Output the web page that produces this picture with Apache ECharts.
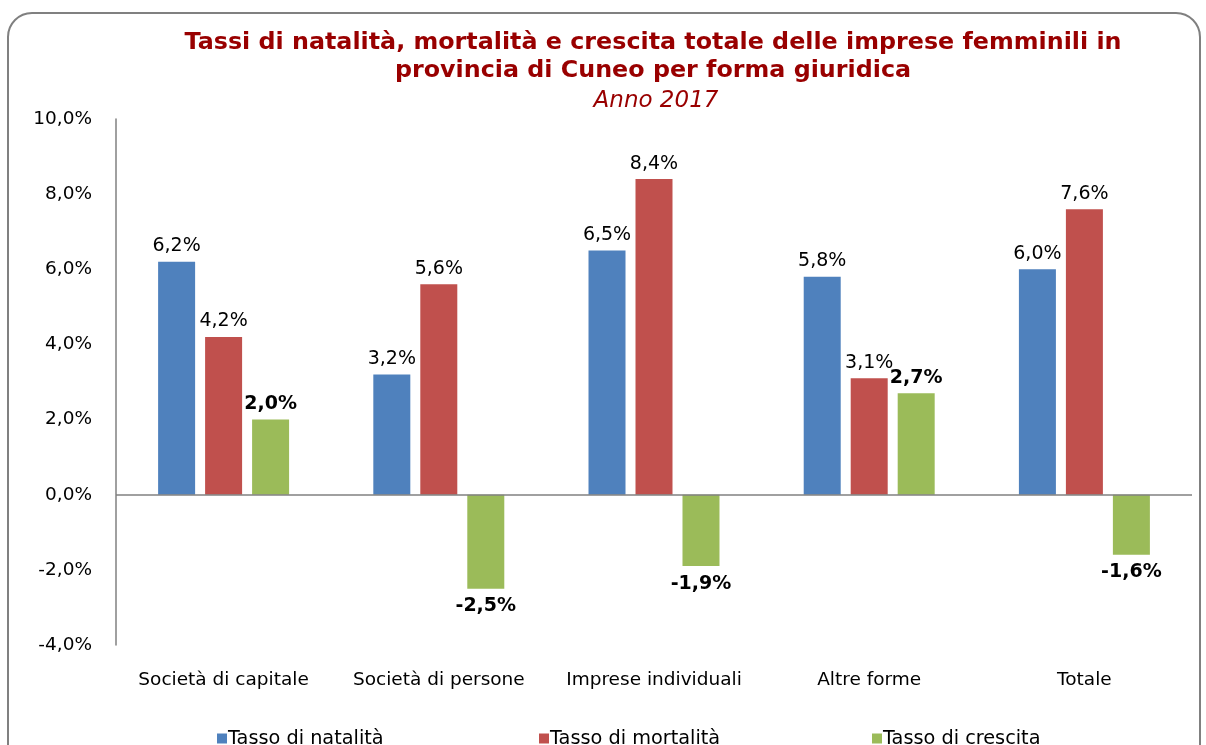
<!DOCTYPE html>
<html><head><meta charset="utf-8">
<script src="https://cdn.jsdelivr.net/npm/echarts@6/dist/echarts.min.js"></script>
<style>html,body{margin:0;padding:0;background:#fff}#c{width:1206px;height:745px}</style>
</head><body><div id="c"></div>
<script>
const categories = ['Società di capitale','Società di persone','Imprese individuali','Altre forme','Totale'];
const natalita = [6.2, 3.2, 6.5, 5.8, 6.0];
const mortalita = [4.2, 5.6, 8.4, 3.1, 7.6];
const crescita = [2.0, -2.5, -1.9, 2.7, -1.6];
const seriesNames = ['Tasso di natalità','Tasso di mortalità','Tasso di crescita'];
const colors = ['#4F81BD','#C0504D','#9BBB59'];
const yTicks = {min:-4, max:10, interval:2};

const fmt = v => v.toFixed(1).replace('.', ',') + '%';
const font = 'DejaVu Sans';

const chart = echarts.init(document.getElementById('c'));
function lbl(bold){
  return {
    show:true, color:'#000', fontFamily:font, fontSize:19, fontWeight: bold?'bold':'normal',
    formatter: p => fmt(p.value),
    position: 'top', distance:6
  };
}
function data(arr){
  return arr.map(v => v < 0 ? {value:v, label:{position:'bottom', distance:8}} : v);
}
const legendCommon = {
  top: 724, icon:'rect', itemWidth:10, itemHeight:10, itemGap:4,
  textStyle:{fontFamily:font, fontSize:19.3, color:'#000', padding:[0,0,0,-4]}
};
chart.setOption({
  animation:false,
  color: colors,
  graphic:[{type:'rect', shape:{x:8,y:13,width:1192,height:780,r:24}, style:{fill:'none', stroke:'#808080', lineWidth:2}, z:-1}],
  title:[
    {text:'Tassi di natalità, mortalità e crescita totale delle imprese femminili in\nprovincia di Cuneo per forma giuridica', left:648, textAlign:'center', top:24,
     textStyle:{fontFamily:font, fontSize:23.8, fontWeight:'bold', color:'#990000', lineHeight:28}},
    {text:'Anno 2017', left:651, textAlign:'center', top:82,
     textStyle:{fontFamily:font, fontSize:23, fontStyle:'italic', fontWeight:'normal', color:'#990000', lineHeight:28}}
  ],
  legend:[
    Object.assign({left:212, data:[seriesNames[0]]}, legendCommon),
    Object.assign({left:534, data:[seriesNames[1]]}, legendCommon),
    Object.assign({left:867, data:[seriesNames[2]]}, legendCommon)
  ],
  grid:{left:116, right:14, top:119, bottom:100},
  xAxis:{type:'category', data:categories,
    axisLine:{show:false, onZero:false}, axisTick:{show:false},
    axisLabel:{interval:0, color:'#000', fontFamily:font, fontSize:18.5, margin:26}},
  yAxis:{type:'value', min:yTicks.min, max:yTicks.max, interval:yTicks.interval,
    splitLine:{show:false}, axisTick:{show:false},
    axisLine:{show:true, lineStyle:{color:'#808080', width:1.5}},
    axisLabel:{color:'#000', fontFamily:font, fontSize:18.5, margin:24, formatter: v => fmt(v)}},
  series:[
    {name:seriesNames[0], type:'bar', data:data(natalita), barWidth:37, barGap:'27%', label:lbl(false),
     markLine:{silent:true, symbol:'none', label:{show:false}, lineStyle:{color:'#808080', width:1.5, type:'solid'}, data:[{yAxis:0}]}},
    {name:seriesNames[1], type:'bar', data:data(mortalita), barWidth:37, barGap:'27%', label:lbl(false)},
    {name:seriesNames[2], type:'bar', data:data(crescita), barWidth:37, barGap:'27%', label:lbl(true)}
  ]
});
</script></body></html>
